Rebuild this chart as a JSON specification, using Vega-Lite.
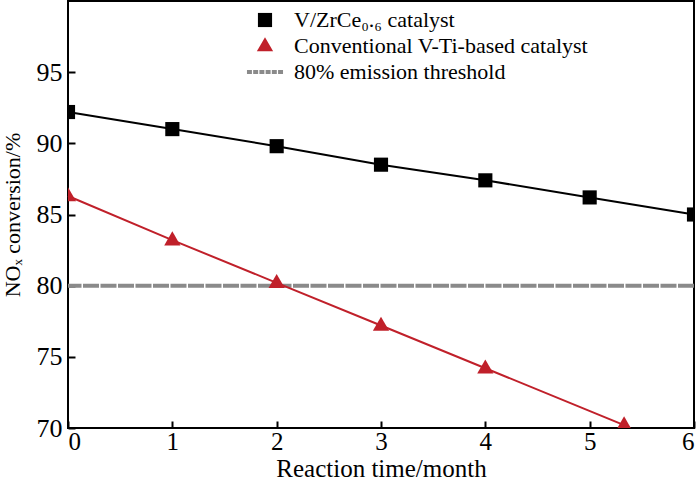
{
  "$schema": "https://vega.github.io/schema/vega-lite/v6.json",
  "width": 626,
  "height": 427,
  "autosize": "none",
  "padding": {"left": 68, "top": 1, "right": 6, "bottom": 54},
  "background": "white",
  "config": {
    "font": "Liberation Serif",
    "view": {"stroke": "black", "strokeWidth": 2},
    "axis": {
      "grid": false,
      "labelFont": "Liberation Serif",
      "labelFontSize": 26,
      "labelColor": "black",
      "titleFont": "Liberation Serif",
      "titleFontWeight": "normal",
      "titleColor": "black"
    }
  },
  "datasets": {
    "series": [
      {"month": 0, "conv": 92.2, "series": "V/ZrCe₀.₆ catalyst"},
      {"month": 1, "conv": 91.0, "series": "V/ZrCe₀.₆ catalyst"},
      {"month": 2, "conv": 89.8, "series": "V/ZrCe₀.₆ catalyst"},
      {"month": 3, "conv": 88.5, "series": "V/ZrCe₀.₆ catalyst"},
      {"month": 4, "conv": 87.4, "series": "V/ZrCe₀.₆ catalyst"},
      {"month": 5, "conv": 86.2, "series": "V/ZrCe₀.₆ catalyst"},
      {"month": 6, "conv": 85.0, "series": "V/ZrCe₀.₆ catalyst"},
      {"month": 0, "conv": 86.3, "series": "Conventional V-Ti-based catalyst"},
      {"month": 1, "conv": 83.2, "series": "Conventional V-Ti-based catalyst"},
      {"month": 2, "conv": 80.2, "series": "Conventional V-Ti-based catalyst"},
      {"month": 3, "conv": 77.2, "series": "Conventional V-Ti-based catalyst"},
      {"month": 4, "conv": 74.2, "series": "Conventional V-Ti-based catalyst"},
      {"month": 5.33, "conv": 70.2, "series": "Conventional V-Ti-based catalyst"}
    ],
    "threshold": [
      {"conv": 80, "series": "80% emission threshold"}
    ]
  },
  "layer": [
    {
      "data": {"name": "threshold"},
      "mark": {"type": "rule", "color": "#8a8a8a", "strokeWidth": 4, "strokeDash": [16, 1.5]},
      "encoding": {
        "y": {"field": "conv", "type": "quantitative", "scale": {"domain": [70, 100]}}
      }
    },
    {
      "data": {"name": "series"},
      "transform": [{"filter": "datum.series === 'V/ZrCe₀.₆ catalyst'"}],
      "mark": {"type": "line", "color": "black", "strokeWidth": 2},
      "encoding": {
        "x": {"field": "month", "type": "quantitative"},
        "y": {"field": "conv", "type": "quantitative"}
      }
    },
    {
      "data": {"name": "series"},
      "transform": [{"filter": "datum.series === 'Conventional V-Ti-based catalyst'"}],
      "mark": {"type": "line", "color": "#c0202a", "strokeWidth": 2},
      "encoding": {
        "x": {"field": "month", "type": "quantitative"},
        "y": {"field": "conv", "type": "quantitative"}
      }
    },
    {
      "data": {"name": "series"},
      "mark": {"type": "point", "filled": true, "opacity": 1, "size": 200, "clip": true},
      "encoding": {
        "x": {
          "field": "month",
          "type": "quantitative",
          "scale": {"domain": [0, 6], "nice": false},
          "axis": {"values": [0, 1, 2, 3, 4, 5, 6], "format": "d", "title": "Reaction time/month", "titleFontSize": 25, "labelFontSize": 25, "offset": -7, "domain": false, "tickSize": 7, "tickColor": "black", "tickWidth": 2, "labelPadding": 1, "titlePadding": 2}
        },
        "y": {
          "field": "conv",
          "type": "quantitative",
          "scale": {"domain": [70, 100], "nice": false, "zero": false},
          "axis": {"values": [70, 75, 80, 85, 90, 95], "title": "NOₓ conversion/%", "titleFontSize": 22, "offset": -7, "domain": false, "tickSize": 7, "tickColor": "black", "tickWidth": 2, "labelPadding": 6, "titlePadding": 12}
        },
        "color": {
          "field": "series",
          "type": "nominal",
          "scale": {
            "domain": ["V/ZrCe₀.₆ catalyst", "Conventional V-Ti-based catalyst", "80% emission threshold"],
            "range": ["black", "#c0202a", "#8a8a8a"]
          },
          "legend": {
            "title": null,
            "orient": "none",
            "legendX": 186,
            "legendY": 8,
            "labelFont": "Liberation Serif",
            "labelFontSize": 22,
            "labelColor": "black",
            "labelOffset": 18,
            "labelLimit": 0,
            "symbolSize": 200,
            "symbolStrokeWidth": 0,
            "rowPadding": 4
          }
        },
        "shape": {
          "field": "series",
          "type": "nominal",
          "scale": {
            "domain": ["V/ZrCe₀.₆ catalyst", "Conventional V-Ti-based catalyst", "80% emission threshold"],
            "range": [
              "square",
              "M0,-1.25L1.15,0.75L-1.15,0.75Z",
              "M-2.55,-0.28h0.7v0.56h-0.7z M-1.67,-0.28h0.7v0.56h-0.7z M-0.79,-0.28h0.7v0.56h-0.7z M0.09,-0.28h0.7v0.56h-0.7z M0.97,-0.28h0.7v0.56h-0.7z M1.85,-0.28h0.7v0.56h-0.7z"
            ]
          }
        }
      }
    }
  ]
}
